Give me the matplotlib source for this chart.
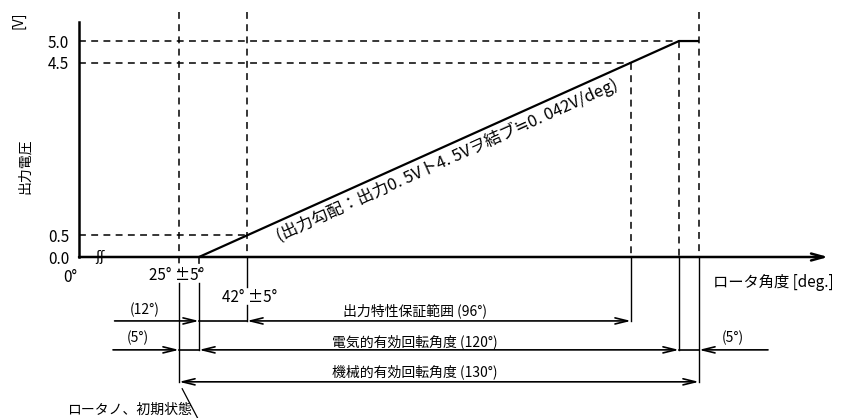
import matplotlib
matplotlib.use('Agg')
import matplotlib.pyplot as plt
from matplotlib.transforms import offset_copy

plt.rcParams['font.family'] = ['Noto Sans CJK JP', 'DejaVu Sans']

# output characteristic: rotor angle [deg] -> output voltage [V]
angle = [30, 42, 138, 150, 155]
volt = [0.0, 0.5, 4.5, 5.0, 5.0]

ytick_vals = [0.0, 0.5, 4.5, 5.0]
ytick_labels = ['0.0', '0.5', '4.5', '5.0']

mech_start, mech_end = 25, 155   # 機械的有効回転角度 (130°)
elec_start, elec_end = 30, 150   # 電気的有効回転角度 (120°)
guar_start, guar_end = 42, 138   # 出力特性保証範囲 (96°)

# dimension rows below the axis (in volt units of the main axes)
row1, row2, row3 = -1.48, -2.15, -2.89
top = 5.67

fig = plt.figure(figsize=(8.42, 4.18), dpi=100)
ax = fig.add_axes([79 / 842, 161 / 418, 763 / 842, 257 / 418])
ax.set_xlim(0, 190.75)
ax.set_ylim(0, 5.95)

for s in ['top', 'right', 'bottom']:
    ax.spines[s].set_visible(False)
ax.spines['left'].set_bounds(0, 5.43)
ax.spines['left'].set_linewidth(1.8)
ax.set_xticks([])
ax.set_yticks(ytick_vals, ytick_labels)
ax.tick_params(axis='y', length=0, pad=7, labelsize=11)

# x axis with arrow
ax.annotate('', xy=(187.3, 0), xytext=(0, 0), annotation_clip=False,
            arrowprops=dict(arrowstyle='->,head_length=0.9,head_width=0.25',
                            color='k', lw=1.8, shrinkA=0, shrinkB=0))
ax.text(5.3, 0, 'ʃʃ', ha='center', va='center', fontsize=10,
        family='DejaVu Sans', clip_on=False)

# characteristic curve
ax.plot(angle, volt, color='k', lw=1.6, clip_on=False, solid_capstyle='butt')

# dashed guide lines
dash = dict(color='k', lw=1.1, ls=(0, (4.5, 3.5)), clip_on=False)
ax.plot([0, elec_end], [5.0, 5.0], **dash)
ax.plot([0, guar_end], [4.5, 4.5], **dash)
ax.plot([0, guar_start], [0.5, 0.5], **dash)
ax.plot([mech_start] * 2, [top, -0.35], **dash)
ax.plot([elec_start] * 2, [0, -0.35], **dash)
ax.plot([guar_start] * 2, [top, 0], **dash)
ax.plot([guar_end] * 2, [4.5, 0], **dash)
ax.plot([elec_end] * 2, [5.0, 0], **dash)
ax.plot([mech_end] * 2, [top, 0], **dash)

# solid extension lines
ext = dict(color='k', lw=1.0, clip_on=False)
ax.plot([mech_start] * 2, [-0.6, row3], **ext)
ax.plot([elec_start] * 2, [-0.6, row2], **ext)
ax.plot([guar_start] * 2, [0, -0.69], **ext)
ax.plot([guar_start] * 2, [-1.11, row1], **ext)
ax.plot([guar_end] * 2, [0, row1], **ext)
ax.plot([elec_end] * 2, [0, row2], **ext)
ax.plot([mech_end] * 2, [0, row3], **ext)


def dim(x0, x1, y, style):
    ax.annotate('', xy=(x1, y), xytext=(x0, y), annotation_clip=False,
                arrowprops=dict(arrowstyle=style + ',head_length=0.9,head_width=0.22',
                                color='k', lw=1.2, shrinkA=0, shrinkB=0))


dim(8.9, elec_start, row1, '->')
ax.plot([elec_start, guar_start], [row1, row1], color='k', lw=1.2, clip_on=False)
dim(guar_start, guar_end, row1, '<->')

dim(8.5, mech_start, row2, '->')
ax.plot([mech_start, elec_start], [row2, row2], color='k', lw=1.2, clip_on=False)
dim(elec_start, elec_end, row2, '<->')
ax.plot([elec_end, mech_end], [row2, row2], color='k', lw=1.2, clip_on=False)
dim(172.25, mech_end, row2, '->')

dim(mech_start, mech_end, row3, '<->')

# leader to rotor initial position
ax.plot([29.6, 25.8], [-3.72, -3.05], color='k', lw=0.9, clip_on=False)

fs = 10
ax.text(16.5, -1.22, '(12°)', ha='center', va='center', fontsize=fs)
ax.text(84, -1.25, '出力特性保証範囲 (96°)', ha='center', va='center', fontsize=fs)
ax.text(14.75, -1.87, '(5°)', ha='center', va='center', fontsize=fs)
ax.text(84, -1.96, '電気的有効回転角度 (120°)', ha='center', va='center', fontsize=fs)
ax.text(163.5, -1.87, '(5°)', ha='center', va='center', fontsize=fs)
ax.text(84, -2.66, '機械的有効回転角度 (130°)', ha='center', va='center', fontsize=fs)
ax.text(12.5, -3.53, 'ロータノ、初期状態', ha='center', va='center', fontsize=fs)
ax.text(158.5, -0.58, 'ロータ角度 [deg.]', ha='left', va='center', fontsize=11)

ax.text(-2.2, -0.47, '0°', ha='center', va='center', fontsize=11)
ax.text(24.5, -0.42, '25° ±5°', ha='center', va='center', fontsize=11)
ax.text(42.75, -0.93, '42° ±5°', ha='center', va='center', fontsize=11)

# slanted slope note under the line
tr = offset_copy(ax.transData, fig=fig, x=1.5, y=-3.0, units='points')
ax.text(48, 0.5 + (48 - 42) * 4.0 / 96, '(出力勾配：出力0. 5Vト4. 5Vヲ結ブ≒0. 042V/deg)',
        rotation=2.39, transform_rotates_text=True, rotation_mode='anchor',
        ha='left', va='top', fontsize=12, transform=tr)

fig.text(18 / 842, 1 - 20 / 418, '[V]', rotation=90, ha='center', va='center', fontsize=10)
fig.text(25 / 842, 1 - 166 / 418, '出力電圧', rotation=90, ha='center', va='center', fontsize=10)

fig.savefig('out.png', dpi=100)
